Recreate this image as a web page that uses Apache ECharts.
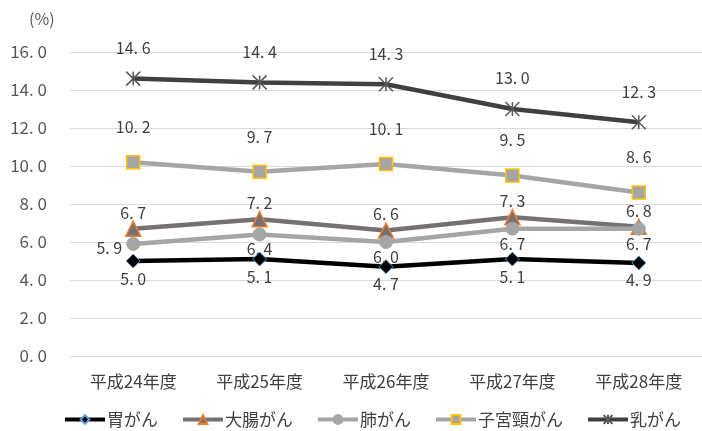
<!DOCTYPE html>
<html><head><meta charset="utf-8">
<script src="https://cdn.jsdelivr.net/npm/echarts@6/dist/echarts.min.js"></script>
<style>html,body{margin:0;padding:0;background:#fff}#c{width:702px;height:431px}</style>
</head><body><div id="c"></div>
<script>
const categories = ['平成24年度','平成25年度','平成26年度','平成27年度','平成28年度'];
const seriesNames = ['胃がん','大腸がん','肺がん','子宮頸がん','乳がん'];
const stomach = [5.0, 5.1, 4.7, 5.1, 4.9];
const colorectal = [6.7, 7.2, 6.6, 7.3, 6.8];
const lung = [5.9, 6.4, 6.0, 6.7, 6.7];
const cervical = [10.2, 9.7, 10.1, 9.5, 8.6];
const breast = [14.6, 14.4, 14.3, 13.0, 12.3];
const yTicks = [0, 2, 4, 6, 8, 10, 12, 14, 16];

const FONT = '"Noto Sans CJK JP", "Noto Sans", sans-serif';
const fmt = v => v.toFixed(1).replace('.', '. ');
const lbl = (pos, dist) => ({show:true, position:pos, distance:dist, color:'#404040', fontSize:16, fontFamily:FONT,
  formatter: p => fmt(p.value)});

const chart = echarts.init(document.getElementById('c'), null, {renderer:'canvas'});
chart.setOption({
  animation:false,
  title:{text:'(%)', left:24, top:6, textStyle:{fontSize:16, fontWeight:'normal', color:'#595959', fontFamily:FONT}},
  grid:{left:70, right:0, top:52, bottom:75},
  legend:{left:58, top:406, itemGap:23, itemWidth:40, itemHeight:11,
    textStyle:{fontSize:17, color:'#404040', fontFamily:FONT, padding:[0,0,0,-3]},
    lineStyle:{width:4},
    data:seriesNames},
  xAxis:{type:'category', data:categories, boundaryGap:true,
    axisLine:{show:true, lineStyle:{color:'#d9d9d9'}}, axisTick:{show:false},
    axisLabel:{fontSize:17, color:'#404040', margin:17, fontFamily:FONT}},
  yAxis:{type:'value', min:yTicks[0], max:yTicks[yTicks.length-1], interval:2,
    axisLine:{show:false}, axisTick:{show:false},
    splitLine:{lineStyle:{color:'#d9d9d9', width:1}},
    axisLabel:{fontSize:17, color:'#595959', margin:23, fontFamily:FONT, formatter:v=>fmt(v)}},
  series:[
    {name:seriesNames[0], type:'line', data:stomach, symbol:'diamond', symbolSize:14,
     lineStyle:{color:'#000000', width:4.5}, itemStyle:{color:'#000000', borderColor:'#5B9BD5', borderWidth:1},
     label:lbl('bottom', 2), z:2},
    {name:seriesNames[1], type:'line', data:colorectal, symbol:'triangle', symbolSize:15,
     lineStyle:{color:'#767171', width:4.5}, itemStyle:{color:'#767171', borderColor:'#ED7D31', borderWidth:1.5},
     label:lbl('top', 0), z:3},
    {name:seriesNames[2], type:'line', data:lung.map((v,i)=> i===0 ? {value:v, label:{position:'left', distance:4, offset:[0,4]}} : v),
     symbol:'circle', symbolSize:13,
     lineStyle:{color:'#A5A5A5', width:4.5}, itemStyle:{color:'#A5A5A5', borderColor:'#A5A5A5', borderWidth:1},
     label:lbl('bottom', 0), z:4},
    {name:seriesNames[3], type:'line', data:cervical, symbol:'rect', symbolSize:13,
     lineStyle:{color:'#A5A5A5', width:4.5}, itemStyle:{color:'#A5A5A5', borderColor:'#FFC000', borderWidth:1.5},
     label:lbl('top', 20), z:5},
    {name:seriesNames[4], type:'line', data:breast, symbol:'path://M0,0L10,10M10,0L0,10M5,0L5,10', symbolSize:14,
     lineStyle:{color:'#404040', width:4.5}, itemStyle:{color:'rgba(0,0,0,0)', borderColor:'#595959', borderWidth:1.5},
     label:lbl('top', 15), z:6}
  ]
});
</script></body></html>
